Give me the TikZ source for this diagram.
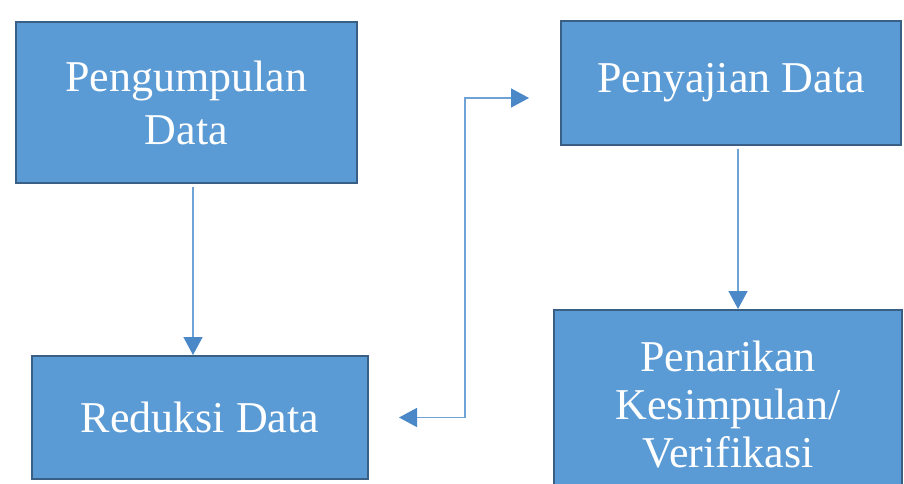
\documentclass[tikz,border=0pt]{standalone}
\usepackage{fontspec}
\setmainfont{Liberation Serif}
\newfontfamily\tnr{Liberation Serif}
\usetikzlibrary{arrows.meta}
\definecolor{boxfill}{HTML}{5B9BD5}
\definecolor{boxline}{HTML}{3A5F85}
\definecolor{arrline}{HTML}{6FA3D8}
\definecolor{arrhead}{HTML}{4A88C7}
\tikzset{
  stagebox/.style={draw=boxline, line width=2pt, fill=boxfill, text=white,
    rectangle, inner sep=0pt, align=center, font=\tnr\fontsize{44}{53}\selectfont},
  flow/.style={draw=arrline, line width=1.5pt,
    -{Triangle[length=18pt,width=19pt,color=arrhead]}},
  flowboth/.style={draw=arrline, line width=1.5pt,
    {Triangle[length=18pt,width=19pt,color=arrhead]}-{Triangle[length=18pt,width=19pt,color=arrhead]}}
}
\begin{document}
\begin{tikzpicture}[x=1pt,y=-1pt]
\useasboundingbox (0,0) rectangle (904,484);
\clip (0,0) rectangle (904,484);
\fill[white] (0,0) rectangle (904,484);
\node[stagebox, minimum width=341pt, minimum height=161pt] (peng) at (186.5,102.5) {Pengumpulan\\Data};
\node[stagebox, minimum width=336pt, minimum height=123pt] (red) at (200,417.5) {Reduksi Data};
\node[stagebox, minimum width=340pt, minimum height=124pt] (pen) at (731,83) {Penyajian Data};
\node[stagebox, minimum width=348pt, minimum height=190pt, font=\tnr\fontsize{44}{48}\selectfont] (tar) at (728,405) {Penarikan\\Kesimpulan/\\Verifikasi};
\coordinate (x1) at (193,0);
\coordinate (x2) at (738,0);
\coordinate (j1) at (465,417.5);
\coordinate (j2) at (465,98);
\draw[flow, shorten <=3pt] (peng.south -| x1) -- (red.north -| x1);
\draw[flow, shorten <=3pt] (pen.south -| x2) -- (tar.north -| x2);
\draw[flowboth, shorten <=30pt, shorten >=31pt] (red.east) -- (j1) -- (j2) -- (j2 -| pen.west);
\end{tikzpicture}
\end{document}
